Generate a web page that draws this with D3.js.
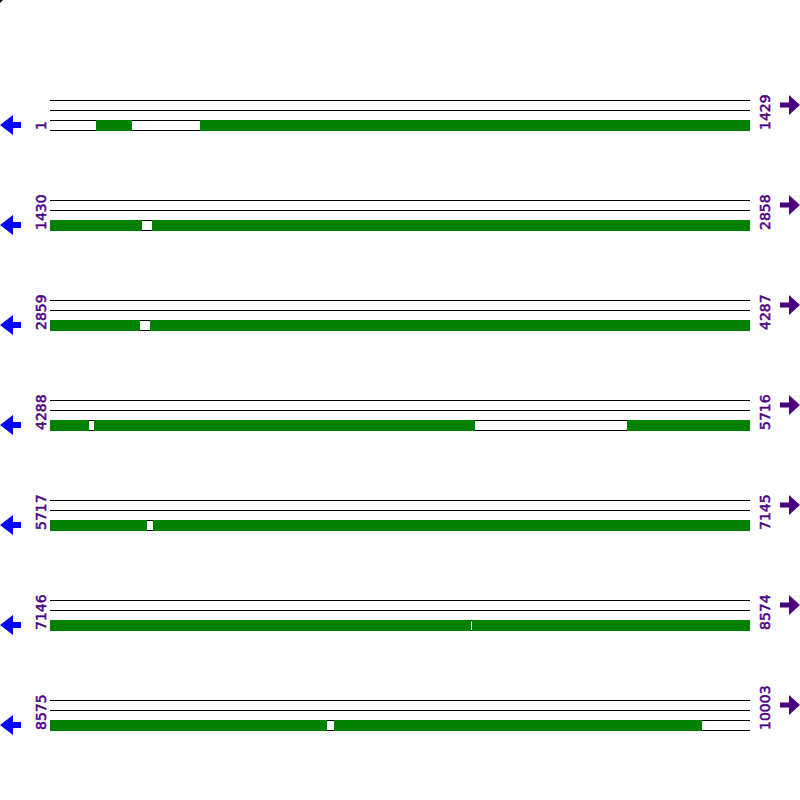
<!DOCTYPE html>
<html><head><meta charset="utf-8">
<script src="https://cdn.jsdelivr.net/npm/d3@7"></script>
<style>html,body{margin:0;padding:0;background:#fff;}svg{display:block;}</style>
</head><body>
<script>
// Sequence layout
const seqLength = 10003;
const rowLength = 1429;
const rowStarts = [1, 1430, 2859, 4288, 5717, 7146, 8575];
const rowEnds = [1429, 2858, 4287, 5716, 7145, 8574, 10003];
// ORFs on the lower frame (start, end in bases)
const orfStarts = [95, 307, 1638, 3063, 4378, 5466, 5927, 8007, 9155];
const orfEnds   = [168, 1617, 3042, 4367, 5154, 5914, 8005, 9139, 9906];

const W = 800, H = 800;
const svg = d3.select("body").append("svg").attr("width", W).attr("height", H);

const rowY = d3.scaleLinear().domain([0, 1]).range([100, 200]); // row index -> top line
const x = d3.scaleLinear().domain([0, rowLength]).range([50, 750]);

// tiny corner mark
svg.append("path").attr("d", "M0,0 L3,0 L0,3 Z").attr("fill", "#000");

rowStarts.forEach((rs, i) => {
  const y0 = rowY(i);
  const g = svg.append("g");
  // frame lines
  [0, 10, 20, 30].forEach(dy => {
    g.append("line").attr("x1", x(0)).attr("x2", x(rowLength))
      .attr("y1", y0 + dy + 0.5).attr("y2", y0 + dy + 0.5)
      .attr("stroke", "#000").attr("stroke-width", 1);
  });
  // ORFs clipped to this row
  orfStarts.forEach((s, k) => {
    const e = orfEnds[k];
    const a = Math.max(s, rs), b = Math.min(e + 1, rowEnds[i] + 1);
    if (b <= a) return;
    g.append("rect")
      .attr("x", x(a - rs)).attr("width", x(b - rs) - x(a - rs))
      .attr("y", y0 + 20).attr("height", 11)
      .attr("fill", "#008000").attr("shape-rendering", "crispEdges");
  });
  // labels
  [[46, rs], [770, rowEnds[i]]].forEach(([lx, t]) => {
    svg.append("text").attr("transform", `translate(${lx},${y0 + 30}) rotate(-90)`)
      .attr("text-anchor", "start").attr("font-family", "DejaVu Sans")
      .attr("font-size", 14).attr("fill", "#4b0082")
      .attr("stroke", "#4b0082").attr("stroke-width", 0.5).text(t);
  });
  // arrows
  const ly = y0 + 25;
  svg.append("path")
    .attr("d", `M0,${ly} L13,${ly - 10} L13,${ly - 3} L21,${ly - 3} L21,${ly + 3} L13,${ly + 3} L13,${ly + 10} Z`)
    .attr("fill", "#0000ff");
  const ry = y0 + 5;
  svg.append("path")
    .attr("d", `M800,${ry} L789,${ry - 10} L789,${ry - 2.5} L780,${ry - 2.5} L780,${ry + 2.5} L789,${ry + 2.5} L789,${ry + 10} Z`)
    .attr("fill", "#4b0082");
});
</script>
</body></html>
